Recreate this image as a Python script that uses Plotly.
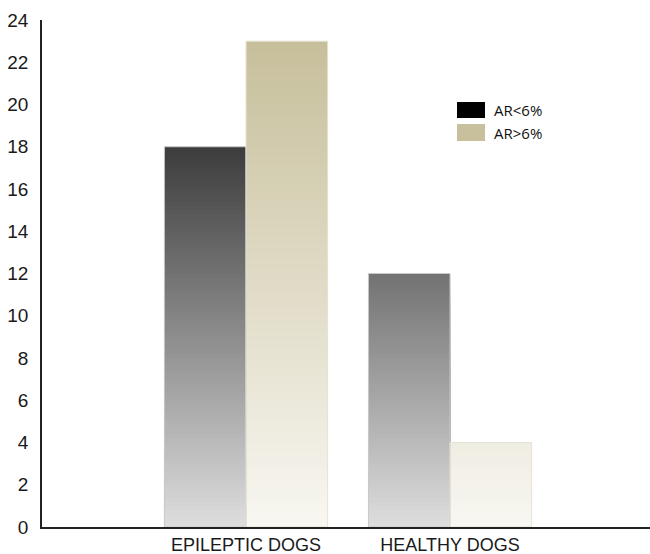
import plotly.graph_objects as go
import numpy as np

categories = ["EPILEPTIC DOGS", "HEALTHY DOGS"]
ar_lt6 = [18, 12]
ar_gt6 = [23, 4]
series_names = ["AR<6%", "AR>6%"]
y_ticks = list(range(0, 25, 2))

STEP = 0.2

tan_bottom = np.array([248, 247, 241])
tan_top23 = np.array([199, 191, 155])


def dark_color(y):
    v = 222 - 9.0 * y
    v = int(round(max(0, min(255, v))))
    return f"rgb({v},{v},{v})"


def tan_color(y):
    t = y / 23.0
    c = tan_bottom + (tan_top23 - tan_bottom) * t
    c = [int(round(max(0, min(255, x)))) for x in c]
    return f"rgb({c[0]},{c[1]},{c[2]})"


def gradient_trace(values, color_fn, offset):
    xs, hs, cols = [], [], []
    for cat, v in zip(categories, values):
        tops = np.arange(v, 0, -STEP)
        for top in tops:
            xs.append(cat)
            hs.append(float(top))
            cols.append(color_fn(max(top - STEP / 2, 0)))
    return go.Bar(
        x=xs, y=hs, base=[0] * len(xs), offset=offset, width=0.4,
        marker=dict(color=cols, line=dict(width=0)),
        showlegend=False, hoverinfo="skip",
    )


fig = go.Figure()
fig.add_trace(gradient_trace(ar_lt6, dark_color, -0.4))
fig.add_trace(gradient_trace(ar_gt6, tan_color, 0.0))

# outlines
fig.add_trace(go.Bar(x=categories, y=ar_lt6, offset=-0.4, width=0.4,
                     marker=dict(color="rgba(0,0,0,0)", line=dict(color="#c9c9c9", width=1)),
                     showlegend=False, hoverinfo="skip"))
fig.add_trace(go.Bar(x=categories, y=ar_gt6, offset=0.0, width=0.4,
                     marker=dict(color="rgba(0,0,0,0)", line=dict(color="#e6e3d6", width=1)),
                     showlegend=False, hoverinfo="skip"))

# custom legend (large swatches); plot area: x 42..650, y 20..527 px
def px_x(px):
    return (px - 42) / 608.0


def px_y(py):
    return (527 - py) / 507.0


legend_colors = ["#000000", "#c8c09c"]
sw_rows = [(102, 118), (124, 141)]
shapes = []
annotations = []
for name, col, (top, bot) in zip(series_names, legend_colors, sw_rows):
    shapes.append(dict(type="rect", xref="paper", yref="paper",
                       x0=px_x(457), x1=px_x(485), y0=px_y(bot), y1=px_y(top),
                       fillcolor=col, line=dict(width=0)))
    annotations.append(dict(xref="paper", yref="paper", x=px_x(492), y=px_y((top + bot) / 2),
                            text=name, showarrow=False, xanchor="left", yanchor="middle",
                            font=dict(family="Open Sans", size=15, color="#111")))

fig.update_layout(
    width=650, height=554,
    template="none",
    barmode="overlay",
    showlegend=False,
    plot_bgcolor="white", paper_bgcolor="white",
    margin=dict(l=42, r=0, t=20, b=27, pad=0),
    font=dict(family="Liberation Sans, Arial", size=19, color="#1a1a1a"),
    shapes=shapes, annotations=annotations,
    xaxis=dict(type="category", range=[-1.0, 1.98], showline=True, linecolor="#222",
               linewidth=1.5, showgrid=False, ticks="outside", ticklen=1,
               tickcolor="rgba(0,0,0,0)", zeroline=False, automargin=False,
               tickfont=dict(size=18)),
    yaxis=dict(range=[0, 24], tickvals=y_ticks, showline=True, linecolor="#222",
               linewidth=1.5, showgrid=False, ticks="outside", ticklen=8,
               tickcolor="rgba(0,0,0,0)", zeroline=False, automargin=False,
               tickfont=dict(size=19)),
)

fig.write_html("out.html",
               config={"displayModeBar": False},
               post_script="document.body.style.margin='0';document.body.style.overflow='hidden';")
